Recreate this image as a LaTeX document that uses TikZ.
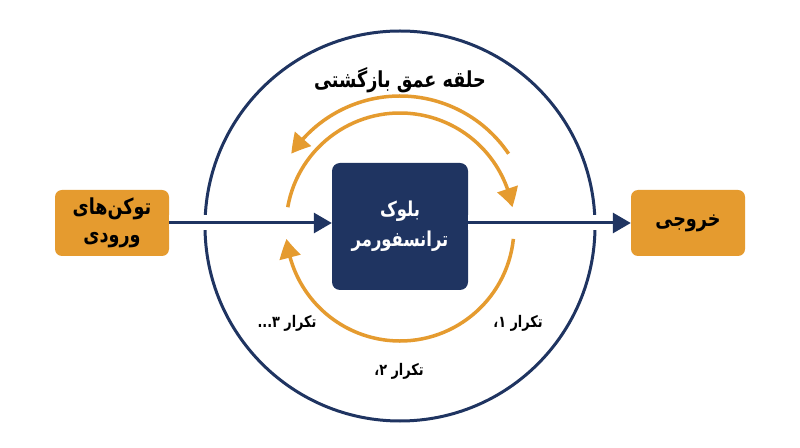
\documentclass[tikz,border=0pt]{standalone}
\usepackage{fontspec}
\usetikzlibrary{arrows.meta,bending}
\TeXXeTstate=1
\newfontfamily\fa[Script=Arabic,FakeStretch=0.8]{DejaVu Sans}
\definecolor{navy}{HTML}{1F3461}
\definecolor{gold}{HTML}{E59B2F}
\begin{document}
\begin{tikzpicture}[x=1pt,y=1pt,
  iobox/.style={fill=gold, rounded corners=7pt, minimum width=114pt, minimum height=66pt,
    align=center, text=black, inner sep=0pt, font=\fa\bfseries\fontsize{22}{28}\selectfont},
  blockbox/.style={fill=navy, rounded corners=8pt, minimum width=136pt, minimum height=127pt,
    align=center, text=white, inner sep=0pt, font=\fa\bfseries\fontsize{20.5}{30}\selectfont},
  lbl/.style={text=black, inner sep=0pt, font=\fa\bfseries\fontsize{16}{18}\selectfont},
  ttl/.style={text=black, inner sep=0pt, font=\fa\bfseries\fontsize{22}{26}\selectfont},
  navyarrow/.style={navy, line width=3pt, -{Triangle[length=18pt,width=20pt]}},
  halo/.style={white, line width=15pt},
  loop/.style={gold, line width=3.5pt, -{Triangle[length=19pt,width=21pt,bend]}},
  ring/.style={navy, line width=3pt}]
\useasboundingbox (0,0) rectangle (800,447);
\fill[white] (0,0) rectangle (800,447);
\coordinate (o) at (400,221);
\coordinate (c) at (400,220);
\draw[ring] (o) circle[radius=195];
\node[blockbox] (blk) at (400,220.5) {\beginR بلوک\endR\\\beginR ترانسفورمر\endR};
\node[iobox] (in) at (112,224) {\beginR توکن‌های\endR\\\beginR ورودی\endR};
\node[iobox] (out) at (688,224) {\beginR خروجی\endR};
\draw[halo] (in.east) -- (in.east -| blk.west);
\draw[halo] (blk.east |- out.west) -- (out.west);
\draw[navyarrow] (in.east) -- (in.east -| blk.west);
\draw[navyarrow] (blk.east |- out.west) -- (out.west);
\draw[loop] ([shift={(34:131)}]c) arc[start angle=34, end angle=146, radius=131];
\draw[loop] ([shift={(170:114)}]c) arc[start angle=170, end angle=10, radius=114];
\draw[loop] ([shift={(-6:114)}]c) arc[start angle=-6, end angle=-174, radius=114];
\node[ttl] (title) at (400,367) {\beginR حلقه عمق بازگشتی\endR};
\node[lbl] (it1) at (518,124) {\beginR تکرار ۱،\endR};
\node[lbl] (it2) at (399,76) {\beginR تکرار ۲،\endR};
\node[lbl] (it3) at (287,124) {\beginR تکرار ۳...\endR};
\end{tikzpicture}
\end{document}
